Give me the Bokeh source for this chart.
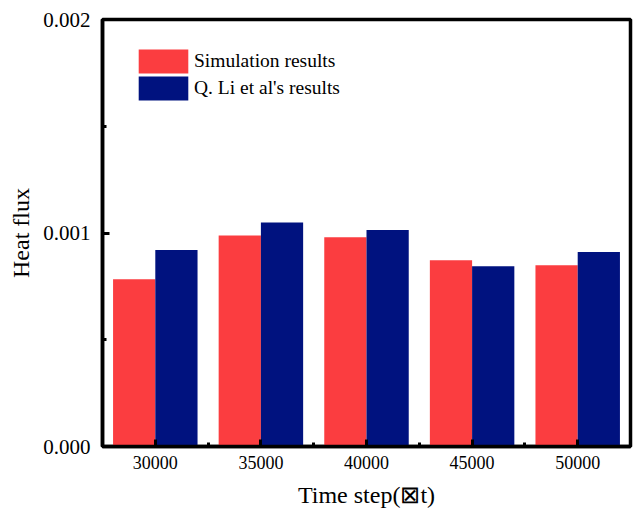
from bokeh.plotting import figure
from bokeh.models import ColumnDataSource, Range1d, FixedTicker, NumeralTickFormatter, Legend, LegendItem
from bokeh.transform import dodge
from bokeh.embed import file_html
from bokeh.resources import INLINE

time_steps = [30000, 35000, 40000, 45000, 50000]
tick_labels = ["30000", "35000", "40000", "45000", "50000"]
simulation = [0.000783, 0.000988, 0.000980, 0.000872, 0.000849]
li_results = [0.000920, 0.001049, 0.001014, 0.000844, 0.000911]
series_names = ["Simulation results", "Q. Li et al's results"]
series_colors = ["#FB3D40", "#00127F"]

src = ColumnDataSource(dict(x=time_steps, sim=simulation, li=li_results))

FONT = "Liberation Serif"

p = figure(width=633, height=517, output_backend="svg", toolbar_location=None,
           x_range=Range1d(27500, 52500), y_range=Range1d(0, 0.002),
           min_border_left=102, min_border_right=3, min_border_top=19, min_border_bottom=71)
p.background_fill_color = "white"
p.border_fill_color = "white"
p.xgrid.visible = False
p.ygrid.visible = False
p.outline_line_color = "black"
p.outline_line_width = 3.5
p.outline_line_alpha = 1.0

r1 = p.vbar(x=dodge("x", -1000), top="sim", width=2000, bottom=0, source=src,
            fill_color=series_colors[0], line_color=None)
r2 = p.vbar(x=dodge("x", 1000), top="li", width=2000, bottom=0, source=src,
            fill_color=series_colors[1], line_color=None)

xa = p.xaxis[0]
xa.ticker = FixedTicker(ticks=time_steps, minor_ticks=[32500, 37500, 42500, 47500])
xa.major_label_overrides = {t: l for t, l in zip(time_steps, tick_labels)}
xa.axis_label = "Time step(\u22a0t)"
ya = p.yaxis[0]
ya.ticker = FixedTicker(ticks=[0, 0.001, 0.002], minor_ticks=[0.0005, 0.0015])
ya.formatter = NumeralTickFormatter(format="0.000")
ya.axis_label = "Heat flux"

for ax in (xa, ya):
    ax.axis_line_width = 3.5
    ax.axis_line_color = "black"
    ax.major_tick_in = 7
    ax.major_tick_out = 0
    ax.minor_tick_in = 4
    ax.minor_tick_out = 0
    ax.major_tick_line_width = 3
    ax.minor_tick_line_width = 3
    ax.major_tick_line_color = "black"
    ax.minor_tick_line_color = "black"
    ax.major_label_text_font = FONT
    ax.major_label_text_color = "black"
    ax.axis_label_text_font = FONT
    ax.axis_label_text_font_style = "normal"
    ax.axis_label_text_font_size = "24px"
    ax.axis_label_text_color = "black"

xa.major_label_text_font_size = "18px"
xa.major_label_standoff = 9
xa.axis_label_standoff = 10
ya.major_label_text_font_size = "21px"
ya.major_label_standoff = 12
ya.axis_label_standoff = 6

# one legend per series so the swatches sit as in the original
for name, rend, ypos in zip(series_names, [r1, r2], [370, 343]):
    lg = Legend(items=[LegendItem(label=name, renderers=[rend])], location=(30, ypos))
    lg.border_line_color = None
    lg.background_fill_alpha = 0
    lg.label_text_font = FONT
    lg.label_text_font_size = "19.5px"
    lg.label_text_color = "black"
    lg.glyph_width = 62
    lg.glyph_height = 30
    lg.label_height = 30
    lg.spacing = 0
    lg.label_standoff = 0
    lg.padding = 0
    lg.margin = 0
    p.add_layout(lg)

open("out.html", "w").write(file_html(p, INLINE))
